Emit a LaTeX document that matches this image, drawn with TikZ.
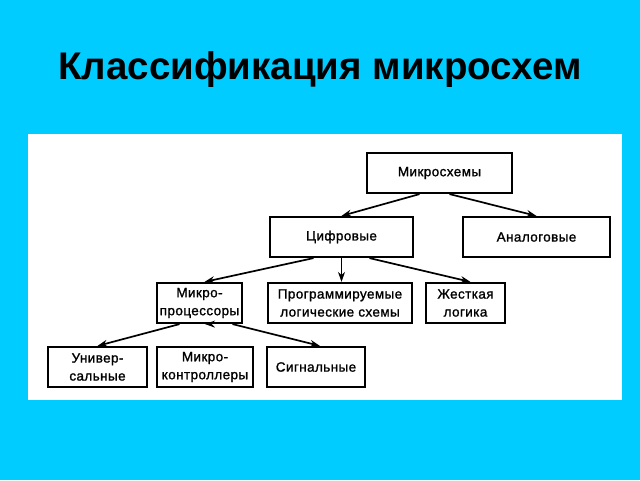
\documentclass[tikz,border=0pt]{standalone}
\usepackage{fontspec}
\setmainfont{Liberation Sans}
\newfontfamily\boxfont[FakeBold=1.2,LetterSpace=3]{Liberation Sans}
\usetikzlibrary{arrows.meta}
\definecolor{bg}{HTML}{00CCFF}
\tikzset{
  box/.style={draw=black, line width=2.2pt, fill=white, inner sep=0pt, font=\boxfont\fontsize{13.5}{18}\selectfont, align=center, minimum height=40pt},
  conn/.style={line width=1.7pt, -{Stealth[length=10pt,width=7pt]}}
}
\begin{document}
\begin{tikzpicture}[x=1pt,y=-1pt]
\fill[bg] (0,0) rectangle (640,480);
\useasboundingbox (0,0) rectangle (640,480);
\fill[white] (28,134) rectangle (622,400);
\node (title) at (320,70) {\fontsize{38.5}{42}\selectfont\bfseries Классификация микросхем};
% boxes
\node[box, minimum width=145pt] (ms) at (439.5,173) {Микросхемы};
\node[box, minimum width=143pt] (cf) at (341.5,237) {Цифровые};
\node[box, minimum width=147pt] (an) at (536.5,237) {Аналоговые};
\node[box, minimum width=85pt] (mp) at (199.5,303) {Микро-\\процессоры};
\node[box, minimum width=144pt] (pl) at (340,303) {Программируемые\\логические схемы};
\node[box, minimum width=79pt] (zl) at (465.5,303) {Жесткая\\логика};
\node[box, minimum width=99pt] (un) at (97.5,367) {Универ-\\сальные};
\node[box, minimum width=96pt] (mc) at (205,367) {Микро-\\контроллеры};
\node[box, minimum width=98pt] (sg) at (316,367) {Сигнальные};
% connectors
\draw[conn] ([xshift=-20pt]ms.south) -- ([xshift=0pt]cf.north);
\draw[conn] ([xshift=10pt]ms.south) -- ([xshift=0pt]an.north);
\draw[conn] ([xshift=-28pt]cf.south) -- ([xshift=5pt]mp.north);
\draw[conn] (cf.south) -- (cf.south |- pl.north);
\draw[conn] ([xshift=28pt]cf.south) -- ([xshift=5pt]zl.north);
\draw[conn] ([xshift=-20pt]mp.south) -- ([xshift=0pt]un.north);
\draw[conn] ([xshift=7pt]mp.south) -- (mp.south -| mc.north);
\draw[conn] ([xshift=33pt]mp.south) -- ([xshift=4pt]sg.north);
\end{tikzpicture}
\end{document}
